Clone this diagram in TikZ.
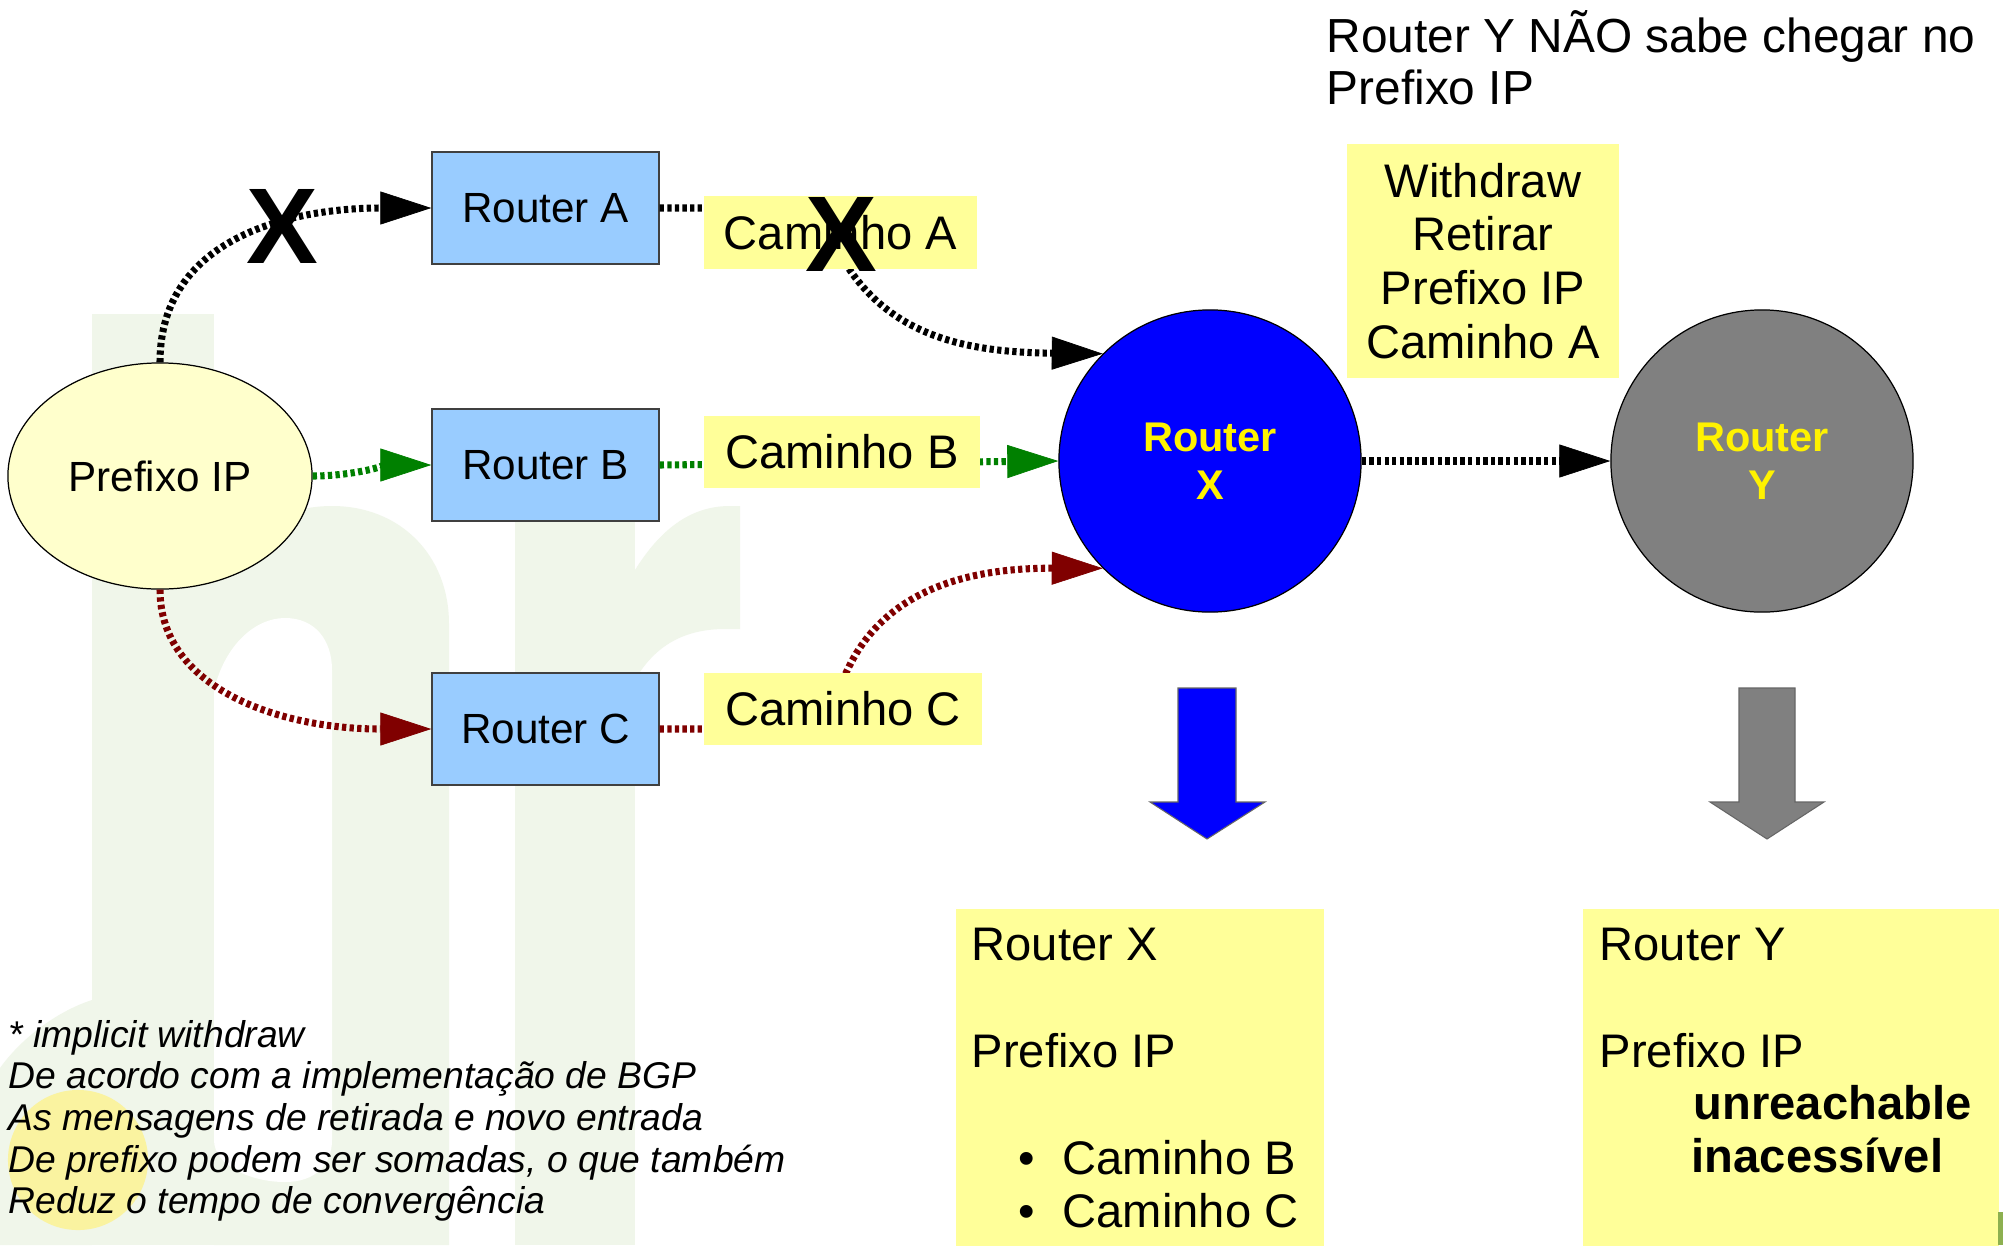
\documentclass[tikz,border=0pt]{standalone}
\usepackage{fontspec}
\setmainfont{Liberation Sans}
\usetikzlibrary{arrows.meta,shapes.geometric}

\definecolor{routerblue}{HTML}{99CCFF}
\definecolor{prefixfill}{HTML}{FFFFCC}
\definecolor{notefill}{HTML}{FFFF99}
\definecolor{pathgreen}{HTML}{008000}
\definecolor{pathred}{HTML}{800000}
\definecolor{wmgreen}{HTML}{F0F6EA}
\definecolor{wmyellow}{HTML}{FAF3A0}
\definecolor{logogreen}{HTML}{8DB050}

\newcommand\fsz[2]{\fontsize{#1}{#2}\selectfont}

\begin{document}
\begin{tikzpicture}[x=0.01cm,y=-0.01cm,
  router/.style={draw=black!75, line width=0.35pt, fill=routerblue,
    minimum width=2.27cm, minimum height=1.12cm, inner sep=0pt, font=\fsz{12}{14}},
  note/.style={fill=notefill, inner sep=0pt, font=\fsz{13.4}{15.3}},
  hub/.style={circle, draw=black, line width=0.35pt, minimum size=3.02cm,
    inner sep=0pt, text=yellow, align=center, font=\bfseries\fsz{11.8}{13.65}},
  wire/.style={line width=2pt, dash pattern=on 1.22pt off 0.94pt},
  link/.style={wire, -{Triangle[length=14.5pt,width=9.4pt,line width=0.2pt]}},
  cross/.style={inner sep=0pt, font=\bfseries\fsz{30.6}{32}},
  txt/.style={anchor=base west, inner sep=0pt, font=\fsz{13.4}{15.3}},
  boldtxt/.style={txt, font=\bfseries\fsz{13.4}{15.3}},
  foot/.style={anchor=base west, inner sep=0pt, font=\itshape\fsz{10.6}{12}},
  blockarrow/.style={draw=black!60, line width=0.3pt},
]

% page and background
\useasboundingbox (0,0) rectangle (2003,1245);
\fill[white] (0,0) rectangle (2003,1245);

% faint logo watermark
\fill[wmgreen] (92,1000) .. controls (55,1012) and (20,1040) .. (0,1068)
  -- (0,1245) -- (92,1245) -- cycle;
\fill[wmgreen] (92,314) rectangle (214,1245);
\fill[wmgreen] (214,560) .. controls (245,525) and (290,506) .. (332,506)
  .. controls (400,506) and (449,555) .. (449,624) -- (449,1245) -- (214,1245) -- cycle;
\fill[white] (214,690) .. controls (225,645) and (255,618) .. (285,618)
  .. controls (315,618) and (332,640) .. (332,670) -- (332,1140)
  .. controls (332,1165) and (315,1182) .. (285,1182)
  .. controls (250,1182) and (214,1165) .. (214,1140) -- cycle;
\fill[wmgreen] (515,506) rectangle (635,1245);
\fill[wmgreen] (635,570) .. controls (660,530) and (690,506) .. (730,506) -- (740,506)
  -- (740,629) -- (725,629) .. controls (685,629) and (655,645) .. (635,680) -- cycle;
\fill[wmyellow] (78,1160) circle[radius=0.7cm];

% routers
\node[draw=black, line width=0.35pt, fill=prefixfill, ellipse, minimum width=3.04cm,
  minimum height=2.26cm, inner sep=0pt, font=\fsz{12}{14}] (pfx) at (160,476) {Prefixo IP};
\node[router] (ra) at (545.5,208) {Router A};
\node[router] (rb) at (545.5,465) {Router B};
\node[router] (rc) at (545.5,729) {Router C};
\node[hub, fill=blue] (rx) at (1210,461) {Router\\X};
\node[hub, fill=gray] (ry) at (1762,461) {Router\\Y};

% bends of the paths hidden under the labels
\coordinate (abend) at (820,208);
\coordinate (cbend) at (830,729);

% announcements
\draw[link] (pfx.north) .. controls +(0,-130) and +(-130,0) .. (ra.west);
\draw[link, pathgreen] (pfx.east) .. controls +(40,0) and +(-40,0) .. (rb.west);
\draw[link, pathred] (pfx.south) .. controls +(0,100) and +(-150,0) .. (rc.west);
\draw[link] (ra.east) -- (abend) .. controls (860,330) and (950,352) .. (rx.135);
\draw[link, pathgreen] (rb.east) -- (rx.west);
\draw[link, pathred] (rc.east) -- (cbend) .. controls (850,600) and (950,568) .. (rx.225);
\draw[link] (rx.east) -- (ry.west);

% path labels
\node[note, minimum width=2.73cm, minimum height=0.73cm] (ca) at (840.5,232.5) {Caminho A};
\node[note, minimum width=2.76cm, minimum height=0.72cm] (cb) at (842,452) {Caminho B};
\node[note, minimum width=2.78cm, minimum height=0.72cm] (cc) at (843,709) {Caminho C};
\node[note, minimum width=2.72cm, minimum height=2.34cm, align=center] (wd) at (1483,261)
  {Withdraw\\Retirar\\Prefixo IP\\Caminho A};

% withdrawn path marks
\node[cross] (xa) at (282,226) {X};
\node[cross] (xb) at (841,234) {X};

% heading
\node[txt, font=\fsz{13.6}{15.3}] (t1) at (1326,52) {Router Y NÃO sabe chegar no};
\node[txt, font=\fsz{13.6}{15.3}] (t2) at (1326,104) {Prefixo IP};

% result arrows
\filldraw[blockarrow, fill=blue] (1178,688) -- (1236,688) -- (1236,802) -- (1265,802)
  -- (1207,839) -- (1150,802) -- (1178,802) -- cycle;
\filldraw[blockarrow, fill=gray] (1739,688) -- (1795,688) -- (1795,802) -- (1824,802)
  -- (1767,839) -- (1710,802) -- (1739,802) -- cycle;

% resulting tables
\node[fill=notefill, minimum width=3.68cm, minimum height=3.37cm, anchor=north west,
  inner sep=0pt] (bx) at (955,908) {};
\node[fill=notefill, minimum width=4.16cm, minimum height=3.37cm, anchor=north west,
  inner sep=0pt] (by) at (1582,908) {};
\fill[logogreen] (1998,1212) rectangle (2003,1245);

\node[txt] (bx1) at (971,960) {Router X};
\node[txt] (bx2) at (971,1067) {Prefixo IP};
\node[txt] (bx3) at (1018,1174) {•};
\node[txt] (bx4) at (1062,1174) {Caminho B};
\node[txt] (bx5) at (1018,1227) {•};
\node[txt] (bx6) at (1062,1227) {Caminho C};

\node[txt] (by1) at (1599,960) {Router Y};
\node[txt] (by2) at (1599,1067) {Prefixo IP};
\node[boldtxt] (by3) at (1693,1119) {unreachable};
\node[boldtxt] (by4) at (1691,1172) {inacessível};

% footnote
\node[foot] (fn1) at (8,1047) {* implicit withdraw};
\node[foot] (fn2) at (8,1088) {De acordo com a implementação de BGP};
\node[foot] (fn3) at (8,1130) {As mensagens de retirada e novo entrada};
\node[foot] (fn4) at (8,1172) {De prefixo podem ser somadas, o que também};
\node[foot] (fn5) at (8,1213) {Reduz o tempo de convergência};

\end{tikzpicture}
\end{document}
